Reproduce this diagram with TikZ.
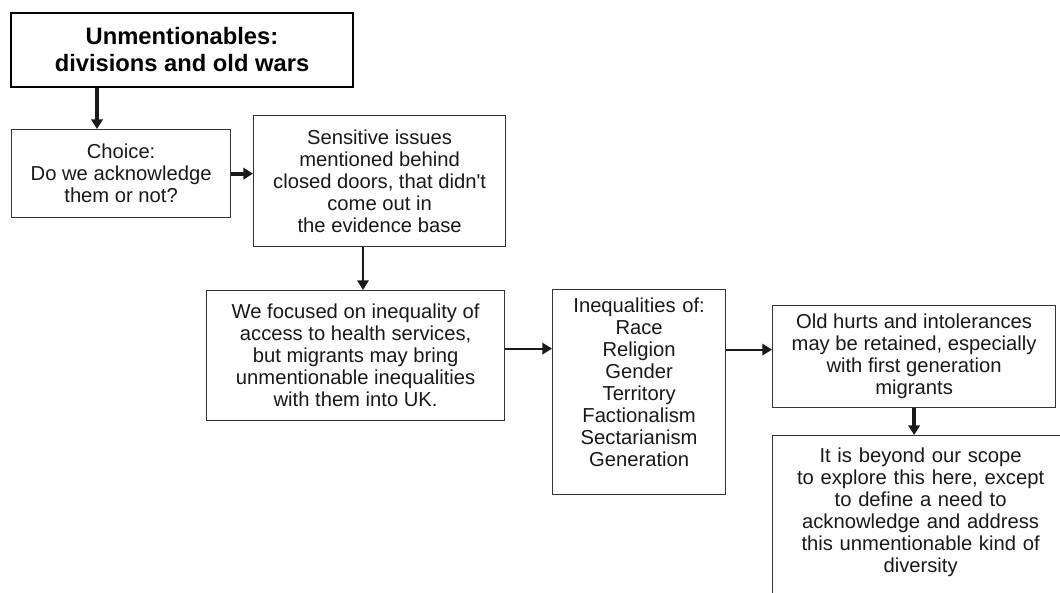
\documentclass[tikz,border=0pt]{standalone}
\usepackage{fontspec}
\setmainfont{Liberation Sans}
\usetikzlibrary{arrows.meta,calc}

\begin{document}
\begin{tikzpicture}[
  x=0.2mm,y=-0.2mm,
  font=\fontsize{11.5pt}{12.5pt}\selectfont,
  >={Triangle[length=5.5pt,width=6.5pt]},
  box/.style={draw=black!80,line width=0.7pt,align=center,anchor=north west,
              inner sep=0pt,text=black!90},
  headbox/.style={box,draw=black,line width=1.1pt,text=black,
                  font=\fontsize{13.5pt}{15.4pt}\selectfont\bfseries},
  flow/.style={->,line width=1.1pt,black!90},
  bigflow/.style={flow,line width=2.2pt}
]
\path[use as bounding box,clip] (0,0) rectangle (1060,592);

% ---- titlu ----
\node[headbox,minimum width=6.84cm,minimum height=1.48cm] (title) at (10,12)
  {Unmentionables:\\divisions and old wars};

% ---- randul de sus ----
\node[box,minimum width=4.38cm,minimum height=1.76cm] (choice) at (11,129)
  {Choice:\\Do we acknowledge\\them or not?};
\node[box,minimum width=5.04cm,minimum height=2.62cm] (sens) at (253,115)
  {Sensitive issues\\mentioned behind\\closed doors, that didn\textquotesingle t\\come out in\\the evidence base};

% ---- randul din mijloc ----
\node[box,minimum width=5.96cm,minimum height=2.6cm] (focus) at (206,290)
  {We focused on inequality of\\access to health services,\\but migrants may bring\\unmentionable inequalities\\with them into UK.};
\node[box,text width=3.46cm,inner ysep=0.16cm,text depth=3.48cm] (ineq) at (552,289)
  {Inequalities of:\\Race\\Religion\\Gender\\Territory\\Factionalism\\Sectarianism\\Generation};
\node[box,minimum width=5.66cm,minimum height=2.04cm] (old) at (772,305)
  {Old hurts and intolerances\\may be retained, especially\\with first generation\\migrants};

% ---- jos, taiat de margine ----
\node[box,text width=5.92cm,inner ysep=0.24cm,text depth=4cm] (beyond) at (772,435)
  {It is beyond our scope\\to explore this here, except\\to define a need to\\acknowledge and address\\this unmentionable kind of\\diversity};

% ---- conexiuni ----
\draw[bigflow] ($(title.south west)+(87,0)$) coordinate (t1) -- (t1 |- choice.north);
\draw[bigflow] (choice.east) -- (choice.east -| sens.west);
\draw[flow] ($(sens.south west)+(110,0)$) coordinate (s1) -- (s1 |- focus.north);
\draw[flow] ($(focus.east)+(0,-7)$) coordinate (f1) -- (f1 -| ineq.west);
\coordinate (o1) at ($(old.west)+(0,-7)$);
\draw[flow] (o1 -| ineq.east) -- (o1);
\draw[bigflow] (old.south) -- (old.south |- beyond.north);

\end{tikzpicture}
\end{document}
